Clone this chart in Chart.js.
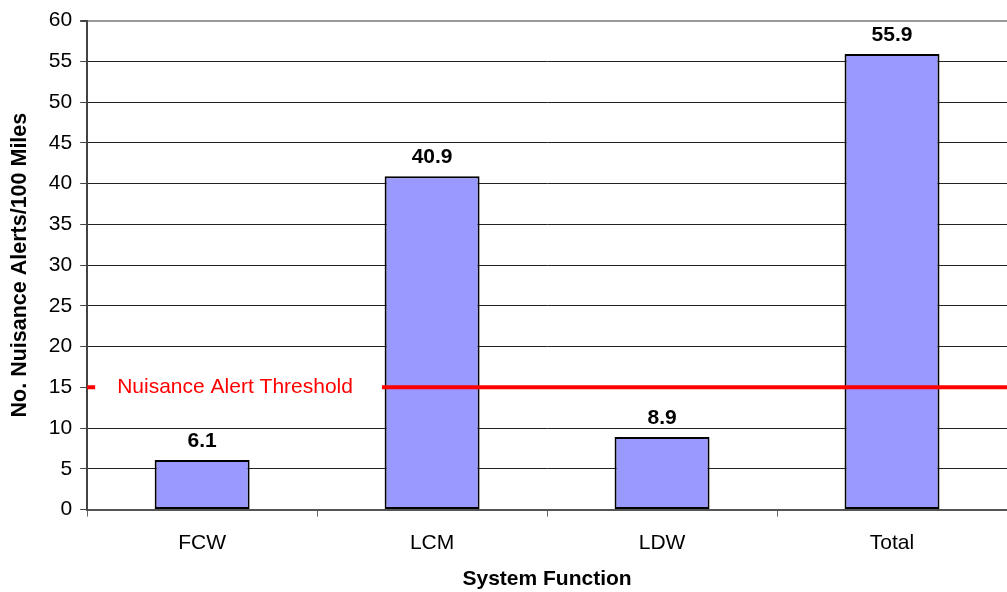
<!DOCTYPE html>
<html>
<head>
<meta charset="utf-8">
<script src="https://cdn.jsdelivr.net/npm/chart.js@4"></script>
<style>
  html, body { margin: 0; padding: 0; background: #fff; }
  #wrap { width: 1007px; height: 592px; }
</style>
</head>
<body>
<div id="wrap"><canvas id="chart" width="1007" height="592"></canvas></div>
<script>
// data
const categories = ['FCW', 'LCM', 'LDW', 'Total'];
const alertsPer100Miles = [6.1, 40.9, 8.9, 55.9];
const yTicks = [0, 5, 10, 15, 20, 25, 30, 35, 40, 45, 50, 55, 60];
const threshold = 15;
const thresholdLabel = 'Nuisance Alert Threshold';

const FONT = '"Liberation Sans", Arial, sans-serif';

// value labels above bars
const valueLabels = {
  id: 'valueLabels',
  afterDatasetsDraw(chart) {
    const ctx = chart.ctx;
    const meta = chart.getDatasetMeta(0);
    ctx.save();
    ctx.font = 'bold 21px ' + FONT;
    ctx.fillStyle = '#000';
    ctx.textAlign = 'center';
    ctx.textBaseline = 'alphabetic';
    meta.data.forEach((bar, i) => {
      ctx.fillText(alertsPer100Miles[i].toFixed(1), bar.x, bar.y - 13);
    });
    ctx.restore();
  }
};

// red threshold line with its label
const thresholdLine = {
  id: 'thresholdLine',
  afterDatasetsDraw(chart) {
    const { ctx, chartArea } = chart;
    const y = chart.scales.y.getPixelForValue(threshold);
    ctx.save();
    ctx.strokeStyle = '#ff0000';
    ctx.lineWidth = 4;
    ctx.beginPath();
    ctx.moveTo(chartArea.left, y);
    ctx.lineTo(chartArea.right, y);
    ctx.stroke();
    ctx.font = '21px ' + FONT;
    const tx = chartArea.left + 30;
    const w = ctx.measureText(thresholdLabel).width;
    ctx.fillStyle = '#fff';
    ctx.fillRect(tx - 22, y - 13, w + 51, 26);
    ctx.fillStyle = '#ff0000';
    ctx.textAlign = 'left';
    ctx.textBaseline = 'middle';
    ctx.fillText(thresholdLabel, tx, y);
    ctx.restore();
  }
};

new Chart(document.getElementById('chart'), {
  type: 'bar',
  data: {
    labels: categories,
    datasets: [{
      data: alertsPer100Miles,
      backgroundColor: '#9999ff',
      borderColor: '#000',
      borderWidth: 2,
      borderSkipped: false,
      categoryPercentage: 1,
      barPercentage: 0.413
    }]
  },
  options: {
    responsive: false,
    animation: false,
    devicePixelRatio: 1,
    layout: { padding: { top: 6, right: 0, bottom: 0, left: 7 } },
    plugins: {
      legend: { display: false },
      tooltip: { enabled: false }
    },
    scales: {
      x: {
        grid: {
          offset: true,
          drawOnChartArea: false,
          drawTicks: true,
          tickLength: 7,
          color: '#666'
        },
        border: { color: '#555', width: 2 },
        ticks: { color: '#000', font: { family: FONT, size: 21 }, padding: 14 },
        title: {
          display: true,
          text: 'System Function',
          color: '#000',
          font: { family: FONT, size: 21, weight: 'bold' },
          padding: { top: -3, bottom: 0 }
        }
      },
      y: {
        min: 0,
        max: 60,
        afterBuildTicks(axis) {
          axis.ticks = yTicks.map(v => ({ value: v }));
        },
        grid: {
          color: (c) => c.tick && c.tick.value === 60 ? '#999' : '#222',
          lineWidth: (c) => c.tick && c.tick.value === 60 ? 2 : 1,
          tickLength: 7,
          tickColor: '#444'
        },
        border: { color: '#444', width: 2 },
        ticks: { color: '#000', font: { family: FONT, size: 21 }, padding: 8 },
        title: {
          display: true,
          text: 'No. Nuisance Alerts/100 Miles',
          color: '#000',
          font: { family: FONT, size: 21.5, weight: 'bold' },
          padding: { top: 0, bottom: 8 }
        }
      }
    }
  },
  plugins: [valueLabels, thresholdLine]
});
</script>
</body>
</html>
